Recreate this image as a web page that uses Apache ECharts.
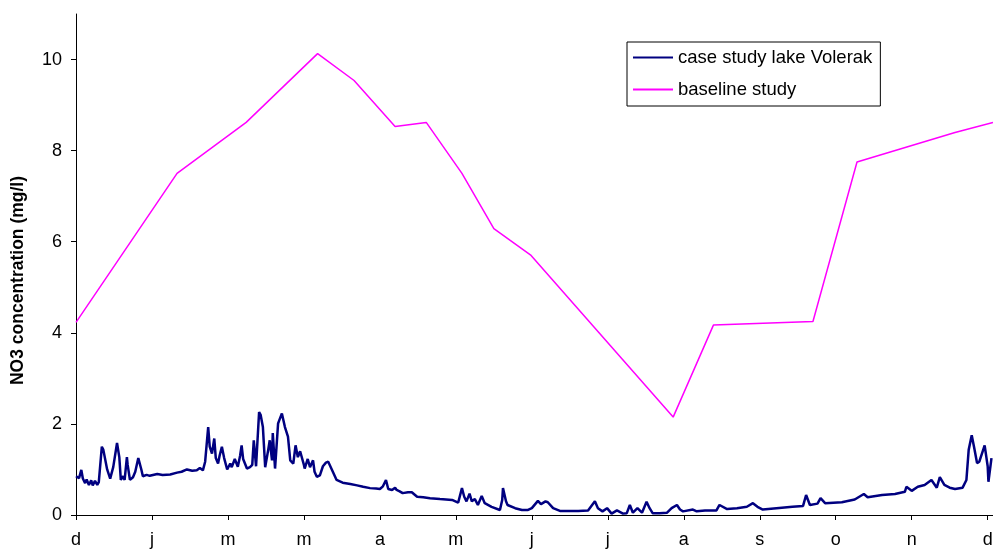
<!DOCTYPE html>
<html>
<head>
<meta charset="utf-8">
<script src="https://cdn.jsdelivr.net/npm/echarts@6/dist/echarts.min.js"></script>
<style>
html,body{margin:0;padding:0;background:#fff;}
#c{width:993px;height:549px;}
</style>
</head>
<body>
<div id="c"></div>
<script>
// x positions in months (0 = d ... 12 = d)
var monthLabels = ['d','j','m','m','a','m','j','j','a','s','o','n','d'];
var yTicks = [0,2,4,6,8,10];

var baselineX = [0,1.33,2.24,3.18,3.66,4.20,4.61,5.08,5.50,5.99,7.86,8.39,9.70,10.28,11.57,12.07];
var baselineY = [4.23,7.50,8.62,10.13,9.54,8.53,8.62,7.50,6.29,5.70,2.15,4.17,4.25,7.75,8.40,8.62];

var caseX = [0,0.04,0.07,0.09,0.12,0.14,0.17,0.20,0.22,0.25,0.28,0.30,0.34,0.36,0.41,0.45,0.49,0.54,0.57,0.59,
  0.62,0.64,0.67,0.68,0.71,0.75,0.78,0.82,0.86,0.88,0.93,0.97,1.07,1.14,1.24,1.33,1.39,1.46,1.53,1.59,
  1.63,1.67,1.70,1.74,1.76,1.79,1.82,1.84,1.87,1.89,1.92,1.95,1.99,2.03,2.05,2.09,2.13,2.16,2.18,2.20,
  2.25,2.29,2.32,2.34,2.37,2.41,2.43,2.46,2.49,2.53,2.55,2.58,2.59,2.62,2.66,2.68,2.71,2.75,2.79,2.82,
  2.86,2.89,2.92,2.95,2.97,3.00,3.01,3.05,3.08,3.12,3.14,3.17,3.21,3.25,3.29,3.32,3.37,3.43,3.51,3.61,
  3.70,3.78,3.87,3.95,4.00,4.04,4.08,4.11,4.16,4.20,4.22,4.26,4.30,4.37,4.42,4.49,4.57,4.66,4.79,4.95,
  5.03,5.08,5.11,5.14,5.18,5.21,5.25,5.29,5.34,5.38,5.47,5.58,5.61,5.62,5.66,5.68,5.78,5.87,5.95,6.00,
  6.08,6.12,6.14,6.18,6.21,6.28,6.37,6.50,6.61,6.74,6.83,6.87,6.93,6.99,7.05,7.12,7.20,7.25,7.29,7.33,
  7.39,7.45,7.51,7.55,7.59,7.68,7.78,7.84,7.91,7.95,7.99,8.12,8.17,8.28,8.43,8.47,8.57,8.70,8.83,8.91,
  8.97,9.04,9.22,9.43,9.57,9.61,9.66,9.76,9.80,9.86,10.08,10.25,10.37,10.42,10.61,10.78,10.91,10.93,11.00,11.08,
  11.17,11.26,11.33,11.37,11.43,11.50,11.57,11.67,11.72,11.75,11.79,11.82,11.86,11.89,11.96,12.00,12.01,12.05];
var caseY = [0.85,0.81,0.99,0.80,0.70,0.78,0.66,0.76,0.65,0.75,0.66,0.72,1.50,1.43,1.00,0.80,1.05,1.58,1.27,0.77,
  0.85,0.77,1.27,1.10,0.77,0.83,0.95,1.25,1.00,0.85,0.88,0.86,0.90,0.88,0.89,0.93,0.95,1.00,0.97,0.98,
  1.03,0.98,1.17,1.93,1.50,1.35,1.68,1.25,1.13,1.30,1.50,1.25,1.00,1.13,1.05,1.23,1.06,1.30,1.53,1.23,
  1.02,1.05,1.10,1.64,1.07,2.26,2.20,1.93,1.05,1.43,1.64,1.20,1.80,1.02,2.01,2.10,2.23,1.93,1.72,1.20,
  1.13,1.53,1.27,1.40,1.43,1.10,1.02,1.23,1.05,1.20,0.95,0.84,0.87,1.07,1.15,1.17,0.99,0.77,0.71,0.68,
  0.65,0.62,0.59,0.58,0.57,0.63,0.77,0.57,0.55,0.60,0.55,0.52,0.48,0.50,0.50,0.40,0.39,0.37,0.35,0.33,
  0.27,0.59,0.40,0.30,0.47,0.30,0.35,0.22,0.42,0.26,0.18,0.11,0.33,0.59,0.30,0.22,0.15,0.11,0.11,0.15,
  0.31,0.24,0.22,0.30,0.28,0.15,0.09,0.09,0.09,0.10,0.30,0.15,0.08,0.15,0.03,0.10,0.03,0.04,0.22,0.05,
  0.15,0.05,0.29,0.15,0.04,0.04,0.05,0.15,0.22,0.12,0.08,0.12,0.08,0.10,0.10,0.22,0.13,0.15,0.18,0.26,
  0.18,0.12,0.15,0.18,0.20,0.44,0.22,0.25,0.37,0.26,0.28,0.34,0.46,0.39,0.44,0.46,0.51,0.62,0.53,0.62,
  0.66,0.77,0.60,0.83,0.66,0.60,0.57,0.60,0.77,1.43,1.75,1.50,1.14,1.17,1.53,1.07,0.73,1.25];

function zip(xs, ys){ return xs.map(function(x,i){ return [x, ys[i]]; }); }

var FONT = '"Liberation Sans", Arial, sans-serif';
var chart = echarts.init(document.getElementById('c'), null, {renderer:'canvas'});
chart.setOption({
  animation: false,
  backgroundColor: '#ffffff',
  grid: {left: 76, right: 0, top: 14, bottom: 34, containLabel: false, outerBoundsMode: 'none'},
  legend: {
    orient: 'vertical', left: 627, top: 42,
    padding: [6, 8, 7, 6], itemGap: 13,
    itemWidth: 40, itemHeight: 2, icon: 'rect',
    borderColor: '#000', borderWidth: 1, borderRadius: 0, backgroundColor: '#fff',
    textStyle: {fontFamily: FONT, fontSize: 18.5, color: '#000'},
    data: ['case study lake Volerak', 'baseline study']
  },
  xAxis: {
    type: 'value', min: 0, max: 12.07, interval: 1,
    axisLine: {show: true, onZero: false, lineStyle: {color: '#000', width: 1}},
    axisTick: {show: true, length: 5, lineStyle: {color: '#000'}, customValues: [0,1,2,3,4,5,6,7,8,9,10,11,12]},
    axisLabel: {
      customValues: [0,1,2,3,4,5,6,7,8,9,10,11,12],
      fontFamily: FONT, fontSize: 18, color: '#000', margin: 16,
      formatter: function(v){ var i = Math.round(v); return monthLabels[i] || ''; }
    },
    splitLine: {show: false}
  },
  yAxis: {
    type: 'value', min: 0, max: 11, interval: 2,
    name: 'NO3 concentration (mg/l)', nameLocation: 'middle', nameGap: 49,
    nameTextStyle: {fontFamily: FONT, fontSize: 17.5, fontWeight: 'bold', color: '#000', padding: [0, 32, 0, 0]},
    axisLine: {show: true, lineStyle: {color: '#000', width: 1}},
    axisTick: {show: true, length: 5, lineStyle: {color: '#000'}, customValues: yTicks},
    axisLabel: {customValues: yTicks, fontFamily: FONT, fontSize: 18, color: '#000', margin: 14},
    splitLine: {show: false}
  },
  series: [
    {
      name: 'case study lake Volerak', type: 'line', data: zip(caseX, caseY),
      showSymbol: false, symbol: 'none', lineStyle: {color: '#000080', width: 2.5},
      itemStyle: {color: '#000080'}, z: 3
    },
    {
      name: 'baseline study', type: 'line', data: zip(baselineX, baselineY),
      showSymbol: false, symbol: 'none', lineStyle: {color: '#ff00ff', width: 1.5},
      itemStyle: {color: '#ff00ff'}, z: 2
    }
  ]
});
</script>
</body>
</html>
